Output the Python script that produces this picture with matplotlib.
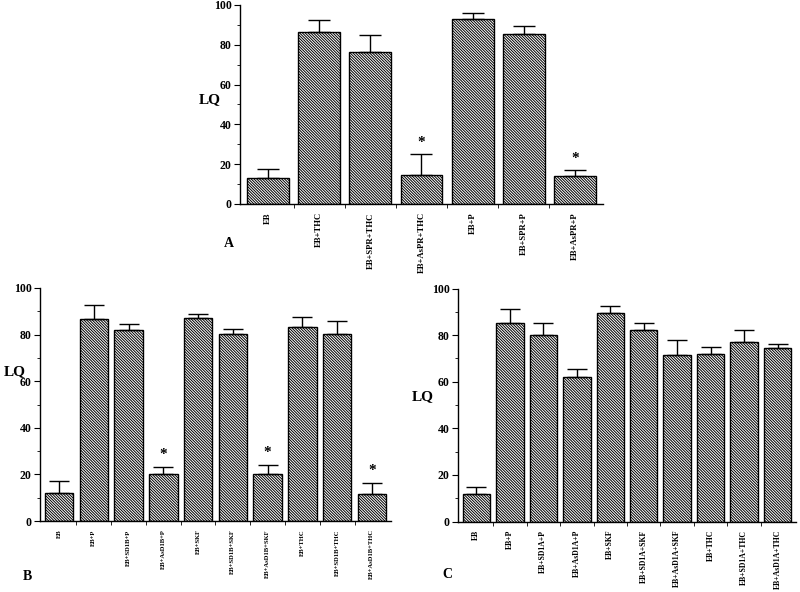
import matplotlib
matplotlib.use("Agg")
import matplotlib.pyplot as plt
import numpy as np
from matplotlib.ticker import MultipleLocator

plt.rcParams['font.family'] = ['Liberation Serif', 'DejaVu Serif']
plt.rcParams['font.weight'] = 'bold'
plt.rcParams['hatch.linewidth'] = 0.7
plt.rcParams['hatch.color'] = '#4a4a4a'

# Panel A
cats_a = ["EB", "EB+THC", "EB+SPR+THC", "EB+AsPR+THC", "EB+P", "EB+SPR+P", "EB+AsPR+P"]
vals_a = [13.2, 86.5, 76.6, 14.7, 93.1, 85.3, 14.0]
errs_a = [4.3, 6.2, 8.5, 10.4, 3.1, 4.0, 3.3]
star_a = [False, False, False, True, False, False, True]

# Panel B
cats_b = ["EB", "EB+P", "EB+SD1B+P", "EB+AsD1B+P", "EB+SKF", "EB+SD1B+SKF",
          "EB+AsD1B+SKF", "EB+THC", "EB+SD1B+THC", "EB+AsD1B+THC"]
vals_b = [11.9, 86.7, 81.9, 20.1, 87.1, 80.1, 20.1, 83.2, 80.1, 11.5]
errs_b = [5.4, 6.0, 2.5, 3.1, 1.6, 2.4, 4.1, 4.3, 5.7, 5.0]
star_b = [False, False, False, True, False, False, True, False, False, True]

# Panel C
cats_c = ["EB", "EB+P", "EB+SD1A+P", "EB+AsD1A+P", "EB+SKF", "EB+SD1A+SKF",
          "EB+AsD1A+SKF", "EB+THC", "EB+SD1A+THC", "EB+AsD1A+THC"]
vals_c = [11.7, 85.1, 80.0, 62.0, 89.3, 82.4, 71.3, 71.7, 76.9, 74.3]
errs_c = [3.0, 6.3, 5.4, 3.3, 3.4, 3.0, 6.7, 3.3, 5.5, 2.0]
star_c = [False] * 10

yticks = [0, 20, 40, 60, 80, 100]

fig = plt.figure(figsize=(8, 5.92), dpi=100)


def panel(rect, cats, vals, errs, stars, xfs, yfs, capsz, letter, letter_xy, lq_xy):
    ax = fig.add_axes(rect)
    x = np.arange(len(cats))
    ax.bar(x, vals, width=0.82, color='white', edgecolor='black', linewidth=1.0,
           hatch='\\' * 12, zorder=2)
    ax.errorbar(x, vals, yerr=[np.zeros(len(vals)), errs], fmt='none', ecolor='black',
                elinewidth=1.0, capsize=capsz, capthick=1.0, zorder=3)
    for xi, v, e, s in zip(x, vals, errs, stars):
        if s:
            ax.text(xi, v + e + 2.5, '*', ha='center', va='bottom', fontsize=11,
                    fontweight='bold')
    ax.set_xlim(-0.55, len(cats) - 0.45)
    ax.set_ylim(0, 100)
    ax.set_yticks(yticks)
    ax.yaxis.set_minor_locator(MultipleLocator(10))
    ax.set_yticklabels([str(t) for t in yticks], fontsize=yfs, fontweight='bold')
    ax.set_xticks(x)
    ax.set_xticklabels(cats, rotation=90, fontsize=xfs, fontweight='bold')
    ax.tick_params(axis='x', which='major', length=0, pad=6)
    ax.set_xticks(np.arange(len(cats) - 1) + 0.5, minor=True)
    ax.tick_params(axis='x', which='minor', length=3, direction='out')
    ax.tick_params(axis='y', which='major', length=4, direction='out', pad=2)
    ax.tick_params(axis='y', which='minor', length=2, direction='out')
    for sp in ['top', 'right']:
        ax.spines[sp].set_visible(False)
    ax.spines['left'].set_linewidth(1.0)
    ax.spines['bottom'].set_linewidth(1.0)
    fig.text(lq_xy[0] / 800, 1 - lq_xy[1] / 592, 'LQ', ha='center', va='center',
             fontsize=11, fontweight='bold')
    fig.text(letter_xy[0] / 800, 1 - letter_xy[1] / 592, letter, ha='center',
             va='center', fontsize=10, fontweight='bold')
    return ax


panel([240 / 800, 1 - 204 / 592, 363 / 800, 199 / 592], cats_a, vals_a, errs_a, star_a,
      6.2, 8.5, 8, 'A', (229, 243), (210, 100))
panel([40 / 800, 1 - 521 / 592, 351 / 800, 233 / 592], cats_b, vals_b, errs_b, star_b,
      4.8, 8.5, 7, 'B', (27, 577), (15, 372))
panel([458 / 800, 1 - 521.5 / 592, 338 / 800, 233 / 592], cats_c, vals_c, errs_c, star_c,
      5.6, 8.5, 7, 'C', (447, 575), (423, 397))

fig.savefig('out.png', dpi=100)
